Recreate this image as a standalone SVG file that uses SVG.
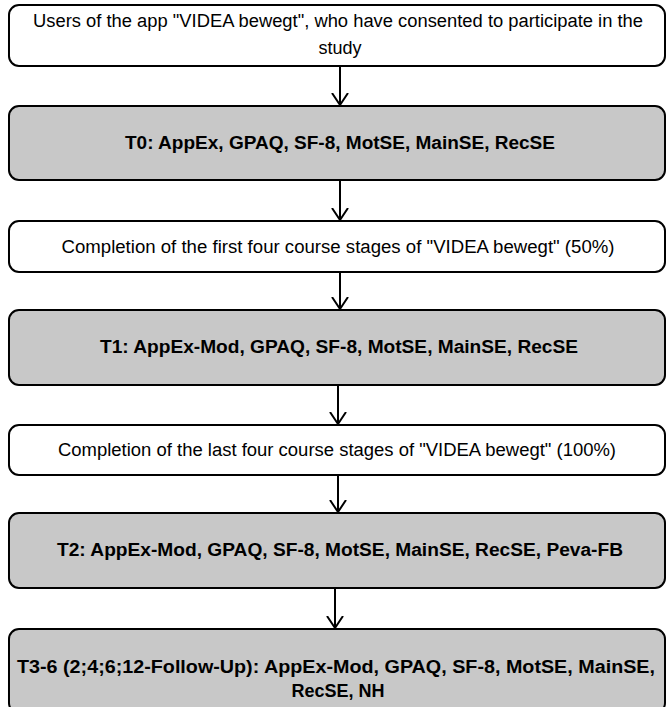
<svg xmlns="http://www.w3.org/2000/svg" width="667" height="707" viewBox="0 0 667 707">
<defs>
<style>
.box{stroke:#000;stroke-width:2;}
.w{fill:#fff;}
.g{fill:#c8c8c8;}
text{font-family:"Liberation Sans Narrow","Liberation Sans",Arial,sans-serif;font-size:18px;fill:#000;text-anchor:middle;}
.b{font-weight:bold;}
.edge{stroke:#000;stroke-width:2;fill:none;}
</style>
<marker id="arr" markerWidth="20" markerHeight="20" refX="12" refY="10" orient="auto" markerUnits="userSpaceOnUse" viewBox="0 0 20 20">
<path d="M0,2 L12,10 L0,18" fill="none" stroke="#000" stroke-width="2"/>
</marker>
</defs>
<rect width="667" height="707" fill="#fff"/>
<g id="connectors">
<line class="edge" x1="340" y1="66" x2="340" y2="105" marker-end="url(#arr)"/>
<line class="edge" x1="340" y1="180" x2="340" y2="220" marker-end="url(#arr)"/>
<line class="edge" x1="340" y1="272" x2="340" y2="309" marker-end="url(#arr)"/>
<line class="edge" x1="338" y1="385" x2="338" y2="424" marker-end="url(#arr)"/>
<line class="edge" x1="338" y1="475" x2="338" y2="512" marker-end="url(#arr)"/>
<line class="edge" x1="335" y1="588" x2="335" y2="628" marker-end="url(#arr)"/>
</g>
<g id="n1">
<rect class="box w" x="9" y="5" width="656" height="61" rx="10"/>
<text x="338" y="27" textLength="610" lengthAdjust="spacingAndGlyphs">Users of the app "VIDEA bewegt", who have consented to participate in the</text>
<text x="340" y="54">study</text>
</g>
<g id="n2">
<rect class="box g" x="9" y="106" width="656" height="74" rx="10"/>
<text class="b" x="340" y="149" textLength="430" lengthAdjust="spacingAndGlyphs">T0: AppEx, GPAQ, SF-8, MotSE, MainSE, RecSE</text>
</g>
<g id="n3">
<rect class="box w" x="9" y="221" width="656" height="51" rx="10"/>
<text x="338" y="253" textLength="553" lengthAdjust="spacingAndGlyphs">Completion of the first four course stages of "VIDEA bewegt" (50%)</text>
</g>
<g id="n4">
<rect class="box g" x="9" y="310" width="656" height="75" rx="10"/>
<text class="b" x="339" y="353" textLength="478" lengthAdjust="spacingAndGlyphs">T1: AppEx-Mod, GPAQ, SF-8, MotSE, MainSE, RecSE</text>
</g>
<g id="n5">
<rect class="box w" x="9" y="425" width="656" height="50" rx="10"/>
<text x="337" y="456" textLength="558" lengthAdjust="spacingAndGlyphs">Completion of the last four course stages of "VIDEA bewegt" (100%)</text>
</g>
<g id="n6">
<rect class="box g" x="9" y="513" width="656" height="75" rx="10"/>
<text class="b" x="340" y="556" textLength="566" lengthAdjust="spacingAndGlyphs">T2: AppEx-Mod, GPAQ, SF-8, MotSE, MainSE, RecSE, Peva-FB</text>
</g>
<g id="n7">
<rect class="box g" x="9" y="629" width="656" height="84" rx="10"/>
<text class="b" x="336" y="673" textLength="638" lengthAdjust="spacingAndGlyphs">T3-6 (2;4;6;12-Follow-Up): AppEx-Mod, GPAQ, SF-8, MotSE, MainSE,</text>
<text class="b" x="338" y="697">RecSE, NH</text>
</g>
</svg>
